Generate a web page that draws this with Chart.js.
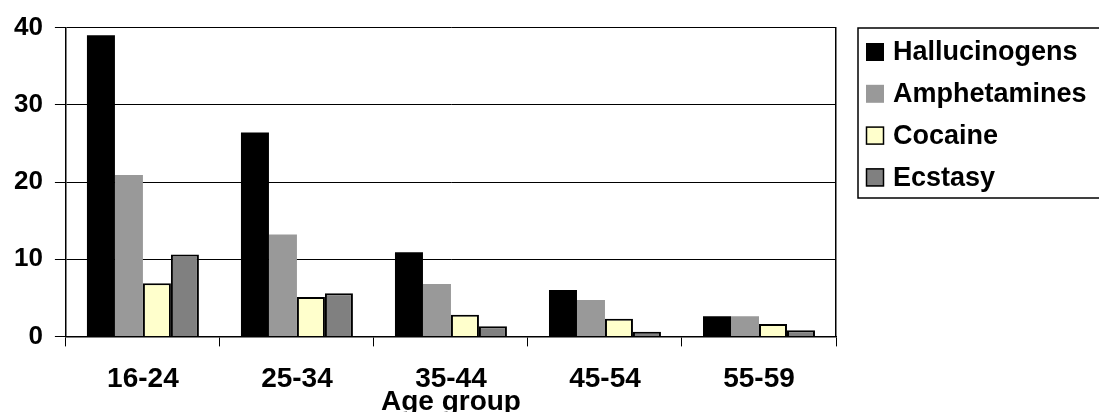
<!DOCTYPE html>
<html>
<head>
<meta charset="utf-8">
<script src="https://cdn.jsdelivr.net/npm/chart.js@4/dist/chart.umd.min.js"></script>
<style>
  html, body { margin: 0; padding: 0; background: #fff; overflow: hidden; }
  #wrap { width: 1099px; height: 412px; }
</style>
</head>
<body>
<div id="wrap"><canvas id="chart" width="1099" height="412"></canvas></div>
<script>
// Age groups along the x axis
const categories = ['16-24', '25-34', '35-44', '45-54', '55-59'];

// Series values per age group
const hallucinogens = [39.0, 26.4, 10.9, 6.0, 2.6];
const amphetamines  = [20.9, 13.2, 6.8, 4.7, 2.6];
const cocaine       = [6.9, 5.1, 2.8, 2.3, 1.6];
const ecstasy       = [10.6, 5.6, 1.3, 0.6, 0.8];

// Value axis range
const yMin = 0, yMax = 40, yStep = 10;

const FONT = "'Liberation Sans', Arial, Helvetica, sans-serif";

// Boxed legend drawn to the right of the plot
const boxedLegend = {
  id: 'boxedLegend',
  afterDraw(chart) {
    const ctx = chart.ctx;
    const x0 = 858, y0 = 28, y1 = 198;
    ctx.save();
    ctx.strokeStyle = '#000';
    ctx.lineWidth = 1.5;
    ctx.strokeRect(x0, y0, 1099 - x0 + 10, y1 - y0);
    ctx.font = 'bold 27px ' + FONT;
    ctx.textBaseline = 'middle';
    ctx.textAlign = 'left';
    chart.data.datasets.forEach((ds, i) => {
      const cy = 52 + i * 41.8;
      ctx.fillStyle = ds.backgroundColor;
      ctx.fillRect(866, cy - 9, 18, 18);
      if (ds.borderWidth) {
        ctx.lineWidth = 1.5;
        ctx.strokeStyle = '#000';
        ctx.strokeRect(866.5, cy - 8.5, 17, 17);
      }
      ctx.fillStyle = '#000';
      ctx.fillText(ds.label, 893, cy + 1);
    });
    ctx.restore();
  }
};

new Chart(document.getElementById('chart'), {
  type: 'bar',
  data: {
    labels: categories,
    datasets: [
      { label: 'Hallucinogens', data: hallucinogens, backgroundColor: '#000000', borderWidth: 0 },
      { label: 'Amphetamines',  data: amphetamines,  backgroundColor: '#999999', borderWidth: 0 },
      { label: 'Cocaine',       data: cocaine,       backgroundColor: '#FFFFCC', borderColor: '#000', borderWidth: 2 },
      { label: 'Ecstasy',       data: ecstasy,       backgroundColor: '#808080', borderColor: '#000', borderWidth: 2 }
    ]
  },
  options: {
    responsive: false,
    devicePixelRatio: 1,
    animation: false,
    categoryPercentage: 0.727,
    barPercentage: 1.0,
    layout: { padding: { left: 2, right: 263, top: 25, bottom: -4 } },
    plugins: {
      legend: { display: false },
      tooltip: { enabled: false }
    },
    scales: {
      x: {
        type: 'category',
        offset: true,
        grid: {
          display: true, offset: true, drawOnChartArea: false, drawTicks: true,
          tickLength: 10, color: '#000', lineWidth: 1
        },
        border: { display: true, color: '#000', width: 1.5 },
        ticks: { color: '#000', font: { family: FONT, size: 28, weight: 'bold' }, padding: 16, maxRotation: 0 },
        title: {
          display: true, text: 'Age group', color: '#000',
          font: { family: FONT, size: 28, weight: 'bold', lineHeight: 1 },
          padding: { top: -24, bottom: 0 }
        }
      },
      y: {
        min: yMin, max: yMax,
        ticks: { stepSize: yStep, color: '#000', font: { family: FONT, size: 26, weight: 'bold' }, padding: 12 },
        grid: { color: '#000', lineWidth: 1, tickLength: 11, drawTicks: true },
        border: { display: true, color: '#000', width: 1.5 }
      },
      yRight: {
        position: 'right',
        min: yMin, max: yMax,
        grid: { display: false, drawTicks: false },
        ticks: { display: false },
        border: { display: true, color: '#000', width: 1.5 }
      }
    }
  },
  plugins: [boxedLegend]
});
</script>
</body>
</html>
